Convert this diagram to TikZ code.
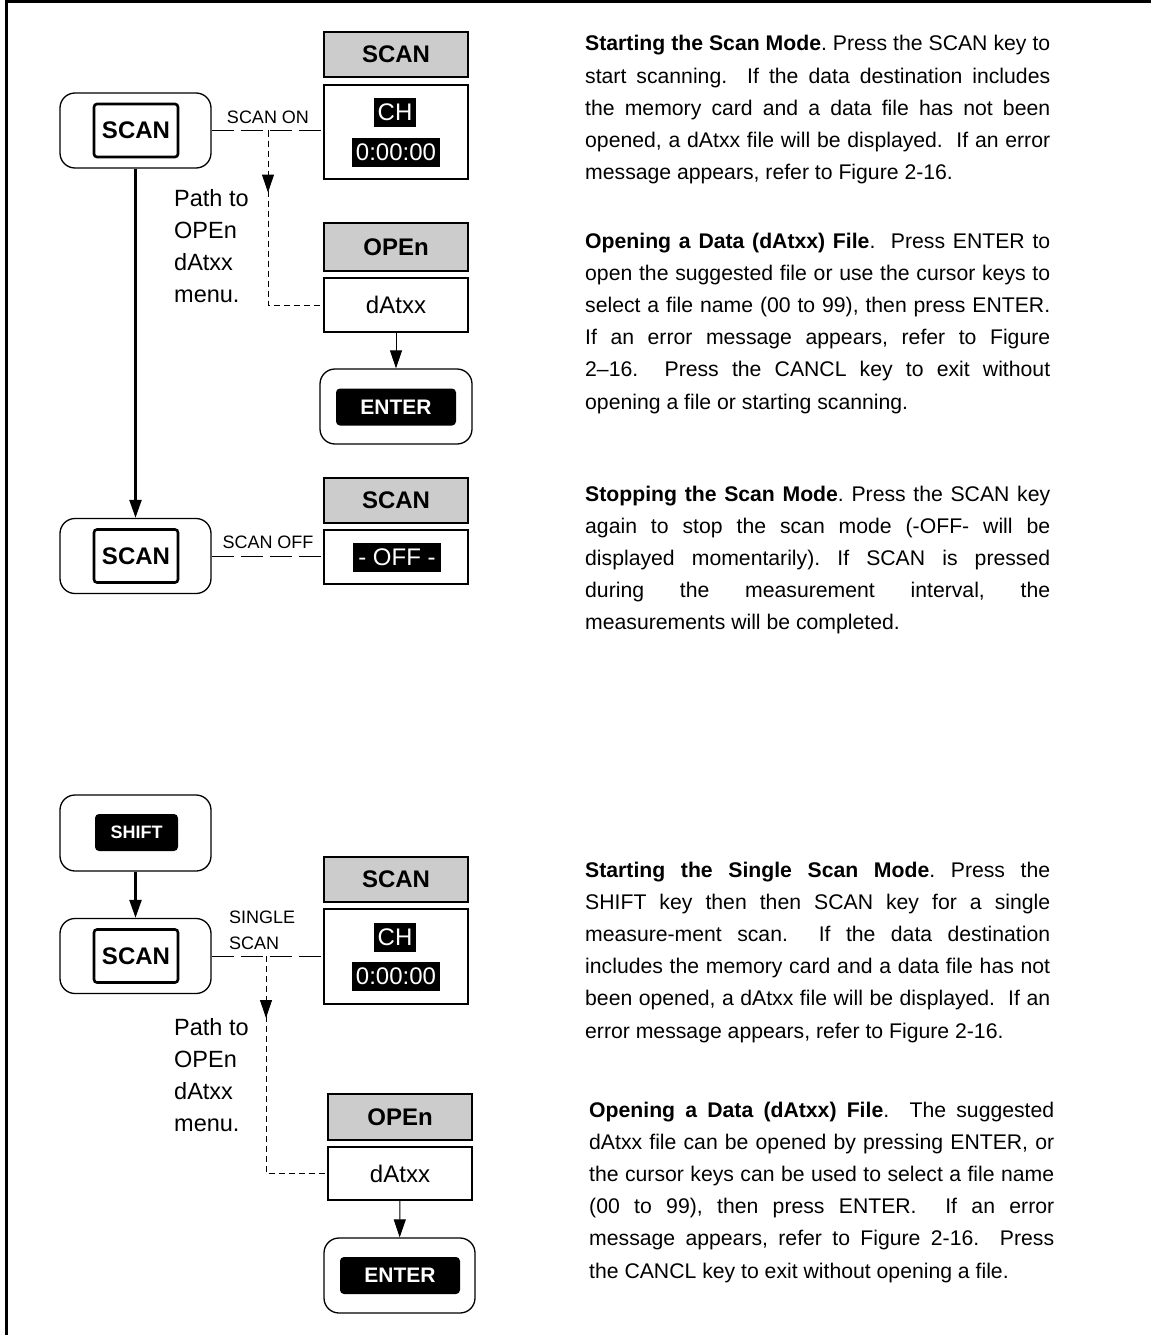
\documentclass[tikz,border=0pt]{standalone}
\usepackage{fontspec}
\setmainfont{Liberation Sans}
\usetikzlibrary{arrows.meta, positioning, calc, decorations.markings}

\definecolor{PanelGray}{RGB}{204,204,204}

\hyphenpenalty=10000
\exhyphenpenalty=10000
\frenchspacing

\tikzset{
  keyframe/.style={draw, line width=1.3pt, rounded corners=15pt,
    minimum width=151pt, minimum height=75pt},
  keycap/.style={draw, line width=2.6pt, rounded corners=3pt,
    minimum width=84pt, minimum height=53pt, inner sep=0pt,
    font=\fontsize{24}{28}\selectfont\bfseries},
  blackcap/.style={fill=black, text=white, rounded corners=4pt,
    minimum height=37pt, inner sep=0pt},
  header/.style={draw, line width=1.2pt, fill=PanelGray,
    minimum width=144pt, minimum height=45pt, inner sep=0pt,
    font=\fontsize{24}{28}\selectfont\bfseries},
  display/.style={draw, line width=1.2pt, minimum width=144pt, inner sep=0pt,
    font=\fontsize{24}{28}\selectfont},
  inverse/.style={fill=black, text=white, inner xsep=4pt, inner ysep=0pt,
    minimum height=29pt, font=\fontsize{24}{28}\selectfont},
  flow/.style={-{Triangle[length=18pt,width=12pt]}},
  mainflow/.style={flow, line width=2.4pt},
  keyline/.style={line width=1pt, dash pattern=on 22pt off 7pt},
  pathline/.style={line width=1pt, dash pattern=on 6pt off 4pt},
  tipmark/.style={postaction={decorate}, decoration={markings,
    mark=at position #1 with {\arrow{Triangle[length=18pt,width=12pt]}}}},
  % base of a multi-line label = baseline of its last line
  pathlabel/.style={anchor=base west, align=left, inner sep=0pt,
    font=\fontsize{23.5}{32}\selectfont},
  steplabel/.style={inner sep=0pt, font=\fontsize{18}{26}\selectfont},
  para/.style={anchor=base west, inner sep=0pt, text width=465pt, align=justify,
    font=\fontsize{21.2}{32.2}\selectfont}
}

\begin{document}
\begin{tikzpicture}[x=1pt, y=-1pt]
\useasboundingbox (0,0) rectangle (1151,1335);
\draw[line width=3pt] (1151,2) -- (6,2) -- (6,1335);

% scan on
\node[keyframe] (scanA) at (135.5,130.5) {};
\node[keycap] (scanAkey) at (136,130.5) {SCAN};
\node[header] (scanAhdr) at (396,54.5) {SCAN};
\node[display, minimum height=94pt] (scanAdisp) at (396,132) {};
\node[inverse] (scanAch) at ($(scanAdisp)+(-1,-19.5)$) {CH};
\node[inverse] (scanAtime) at ($(scanAdisp)+(0,20.5)$) {0:00:00};
\draw[keyline] (scanA.east) -- (scanA.east -| scanAdisp.west);
\node[steplabel] (scanAon) at (268,117.5) {SCAN ON};
\coordinate (scanAfork) at (268,130.5);

% open file
\node[header, minimum height=48pt] (openAhdr) at (396,247) {OPEn};
\node[display, minimum height=54pt] (openAfile) at (396,305) {dAtxx};
\node[keyframe, minimum width=152pt] (enterA) at (396,406.5) {};
\node[blackcap, minimum width=120pt, font=\fontsize{21}{24}\selectfont\bfseries]
  (enterAkey) at (396,407) {ENTER};
\draw[pathline, tipmark=62pt] (scanAfork) -- (scanAfork |- openAfile.west) -- (openAfile.west);
\node[pathlabel] (pathA) at (174,302) {Path to\\OPEn\\dAtxx\\menu.};
\draw[flow, line width=1pt] (openAfile) -- (enterA);

% scan off
\node[keyframe] (scanB) at (135.5,556) {};
\node[keycap] (scanBkey) at (136,556) {SCAN};
\node[header] (scanBhdr) at (396,500.5) {SCAN};
\node[display, minimum height=54pt] (scanBdisp) at (396,557) {};
\node[inverse, inner xsep=5pt] (scanBoff) at (397,557.5) {- OFF -};
\draw[mainflow] (scanA) -- (scanB);
\draw[keyline] (scanB.east) -- (scanB.east -| scanBdisp.west);
\node[steplabel] (scanBoffl) at (268,542.5) {SCAN OFF};

% single scan
\node[keyframe, minimum height=76pt] (shiftC) at (135.5,833) {};
\node[blackcap, minimum width=83pt, font=\fontsize{18}{22}\selectfont\bfseries]
  (shiftCkey) at (136.5,832.5) {SHIFT};
\node[keyframe] (scanC) at (135.5,956) {};
\node[keycap] (scanCkey) at (136,956) {SCAN};
\draw[mainflow] (shiftC) -- (scanC);
\node[header] (scanChdr) at (396,879.5) {SCAN};
\node[display, minimum height=95pt] (scanCdisp) at (396,956.5) {};
\node[inverse] (scanCch) at ($(scanCdisp)+(-1,-19)$) {CH};
\node[inverse] (scanCtime) at ($(scanCdisp)+(0,19.5)$) {0:00:00};
\draw[keyline] (scanC.east) -- (scanC.east -| scanCdisp.west);
\node[steplabel, anchor=base west, align=left] (scanCsingle) at (229,949) {SINGLE\\SCAN};
\coordinate (scanCfork) at (266,956);

% open file after single scan
\node[header, minimum height=46pt] (openBhdr) at (400,1117) {OPEn};
\node[display, minimum height=53pt] (openBfile) at (400,1173.5) {dAtxx};
\node[keyframe] (enterB) at (399.5,1275.5) {};
\node[blackcap, minimum width=120pt, font=\fontsize{21}{24}\selectfont\bfseries]
  (enterBkey) at (400,1275.5) {ENTER};
\draw[pathline, tipmark=62pt] (scanCfork) -- (scanCfork |- openBfile.west) -- (openBfile.west);
\node[pathlabel] (pathB) at (174,1131) {Path to\\OPEn\\dAtxx\\menu.};
\draw[flow, line width=1pt] (openBfile) -- (enterB);

% descriptions
\node[para] (scanAtext) at (585,51) {\textbf{Starting the Scan Mode}. Press the SCAN key to\linebreak
  start scanning.\ \ If the data destination includes\linebreak
  the memory card and a data file has not been\linebreak
  opened, a dAtxx file will be displayed.\ \ If an error\linebreak
  message appears, refer to Figure 2-16.};
\node[para] (openAtext) at (585,248) {\textbf{Opening a Data (dAtxx) File}.\ \ Press ENTER to\linebreak
  open the suggested file or use the cursor keys to\linebreak
  select a file name (00 to 99), then press ENTER.\linebreak
  If an error message appears, refer to Figure\linebreak
  2--16.\ \ Press the CANCL key to exit without\linebreak
  opening a file or starting scanning.};
\node[para] (scanBtext) at (585,501) {\textbf{Stopping the Scan Mode}. Press the SCAN key\linebreak
  again to stop the scan mode (-OFF- will be\linebreak
  displayed momentarily). If SCAN is pressed\linebreak
  during the measurement interval, the\linebreak
  measurements will be completed.};
\node[para] (scanCtext) at (585,877) {\textbf{Starting the Single Scan Mode}. Press the\linebreak
  SHIFT key then then SCAN key for a single\linebreak
  measure-ment scan.\ \ If the data destination\linebreak
  includes the memory card and a data file has not\linebreak
  been opened, a dAtxx file will be displayed.\ \ If an\linebreak
  error message appears, refer to Figure 2-16.};
\node[para] (openBtext) at (589,1117) {\textbf{Opening a Data (dAtxx) File}.\ \ The suggested\linebreak
  dAtxx file can be opened by pressing ENTER, or\linebreak
  the cursor keys can be used to select a file name\linebreak
  (00 to 99), then press ENTER.\ \ If an error\linebreak
  message appears, refer to Figure 2-16.\ \ Press\linebreak
  the CANCL key to exit without opening a file.};
\end{tikzpicture}
\end{document}
